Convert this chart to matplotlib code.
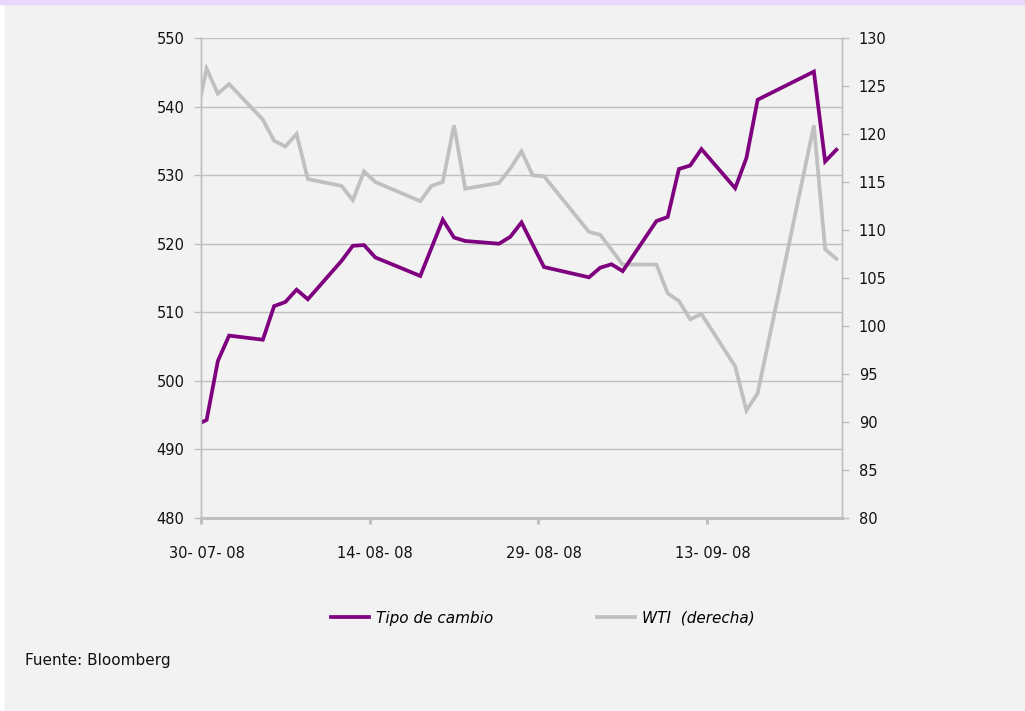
import matplotlib
matplotlib.use("Agg")
import matplotlib.pyplot as plt
from matplotlib.patches import Rectangle
from matplotlib.lines import Line2D
import pandas as pd

# Tipo de cambio (eje izquierdo)
fx_dates = ["2008-07-29", "2008-07-30", "2008-07-31", "2008-08-01", "2008-08-04",
            "2008-08-05", "2008-08-06", "2008-08-07", "2008-08-08", "2008-08-11",
            "2008-08-12", "2008-08-13", "2008-08-14", "2008-08-18", "2008-08-20",
            "2008-08-21", "2008-08-22", "2008-08-25", "2008-08-26", "2008-08-27",
            "2008-08-29", "2008-09-02", "2008-09-03", "2008-09-04", "2008-09-05",
            "2008-09-08", "2008-09-09", "2008-09-10", "2008-09-11", "2008-09-12",
            "2008-09-15", "2008-09-16", "2008-09-17", "2008-09-22", "2008-09-23",
            "2008-09-24"]
fx_values = [493.5, 494.3, 502.9, 506.6, 506.0,
             510.9, 511.5, 513.3, 511.9, 517.5,
             519.7, 519.8, 518.0, 515.3, 523.5,
             520.9, 520.4, 520.0, 521.0, 523.1,
             516.6, 515.1, 516.5, 517.0, 516.0,
             523.3, 523.9, 530.9, 531.4, 533.8,
             528.1, 532.5, 541.0, 545.1, 532.0,
             533.7]

# WTI (eje derecho)
wti_dates = ["2008-07-29", "2008-07-30", "2008-07-31", "2008-08-01", "2008-08-04",
             "2008-08-05", "2008-08-06", "2008-08-07", "2008-08-08", "2008-08-11",
             "2008-08-12", "2008-08-13", "2008-08-14", "2008-08-18", "2008-08-19",
             "2008-08-20", "2008-08-21", "2008-08-22", "2008-08-25", "2008-08-26",
             "2008-08-27", "2008-08-28", "2008-08-29", "2008-09-02", "2008-09-03",
             "2008-09-05", "2008-09-08", "2008-09-09", "2008-09-10", "2008-09-11",
             "2008-09-12", "2008-09-15", "2008-09-16", "2008-09-17", "2008-09-22",
             "2008-09-23", "2008-09-24"]
wti_values = [121.3, 126.8, 124.2, 125.2, 121.5,
              119.3, 118.7, 120.0, 115.3, 114.6,
              113.1, 116.1, 115.0, 113.0, 114.6,
              115.0, 120.9, 114.3, 114.9, 116.4,
              118.2, 115.7, 115.6, 109.8, 109.5,
              106.4, 106.4, 103.4, 102.6, 100.7,
              101.25, 95.8, 91.2, 93.0, 120.9,
              108.0, 107.0]

tick_dates = ["2008-07-30", "2008-08-14", "2008-08-29", "2008-09-13"]
tick_labels = ["30- 07- 08", "14- 08- 08", "29- 08- 08", "13- 09- 08"]
left_ticks = [480, 490, 500, 510, 520, 530, 540, 550]
right_ticks = [80, 85, 90, 95, 100, 105, 110, 115, 120, 125, 130]

purple = "#7f007f"
gray = "#c0c0c0"
axis_gray = "#bfbfbf"

fig = plt.figure(figsize=(10.25, 7.11), dpi=100)
fig.patch.set_facecolor("white")
fig.patches.append(Rectangle((5 / 1025, 1 / 711), 1020 / 1025, 706 / 711,
                             transform=fig.transFigure, color="#f2f2f2", zorder=-10))
fig.patches.append(Rectangle((0, 1 - 4 / 711), 1, 4 / 711,
                             transform=fig.transFigure, color="#e9d8fb", zorder=-9))

ax = fig.add_axes([201 / 1025, 1 - 518 / 711, 641 / 1025, 480 / 711])
ax2 = ax.twinx()
ax.set_zorder(ax2.get_zorder() + 1)
ax.patch.set_visible(False)
ax2.patch.set_visible(False)

# Excel places points in the middle of each day slot
half = pd.Timedelta(hours=12)
fx_x = pd.to_datetime(fx_dates) + half
wti_x = pd.to_datetime(wti_dates) + half

ax2.plot(wti_x, wti_values, color=gray, lw=2.7, solid_joinstyle="miter")
ax.plot(fx_x, fx_values, color=purple, lw=2.7, solid_joinstyle="miter")

ax.set_xlim(pd.Timestamp("2008-07-30"), pd.Timestamp("2008-09-25"))
ax.set_ylim(480, 550)
ax2.set_ylim(80, 130)

ax.set_yticks(left_ticks)
ax.set_yticklabels([str(v) for v in left_ticks])
ax2.set_yticks(right_ticks)
ax2.set_yticklabels([str(v) for v in right_ticks])

major = pd.to_datetime(tick_dates)
ax.set_xticks(major)
ax.set_xticklabels([""] * len(major))
ax.set_xticks(major + half, minor=True)
ax.set_xticklabels(tick_labels, minor=True)

ax.grid(axis="y", color=axis_gray, lw=1.0)
ax.set_axisbelow(True)

for a in (ax, ax2):
    a.spines["top"].set_visible(False)
    for s in ("left", "right"):
        a.spines[s].set_color(axis_gray)
        a.spines[s].set_linewidth(1.0)
    a.spines["bottom"].set_color(axis_gray)
    a.spines["bottom"].set_linewidth(2.2)

ax.tick_params(axis="y", direction="out", length=5, width=1, color=axis_gray,
               pad=7, labelsize=10.5, labelcolor="#111111")
ax2.tick_params(axis="y", direction="out", length=5, width=1, color=axis_gray,
                pad=7, labelsize=10.5, labelcolor="#111111")
ax.tick_params(axis="x", which="major", direction="out", length=4.5, width=2.2,
               color=axis_gray)
ax.tick_params(axis="x", which="minor", length=0, pad=20, labelsize=10.5,
               labelcolor="#111111")

handles = [Line2D([], [], color=purple, lw=2.7),
           Line2D([], [], color=gray, lw=2.7)]
fig.legend(handles, ["Tipo de cambio", "WTI  (derecha)"], ncol=2,
           loc="center", bbox_to_anchor=(543 / 1025, 1 - 618 / 711),
           frameon=False, prop={"style": "italic", "size": 11},
           handlelength=2.5, handletextpad=0.45, columnspacing=6.8)

fig.text(25 / 1025, 1 - 660 / 711, "Fuente: Bloomberg", fontsize=11,
         va="center", ha="left", color="#111111")

fig.savefig("out.png", dpi=100, facecolor=fig.get_facecolor())
